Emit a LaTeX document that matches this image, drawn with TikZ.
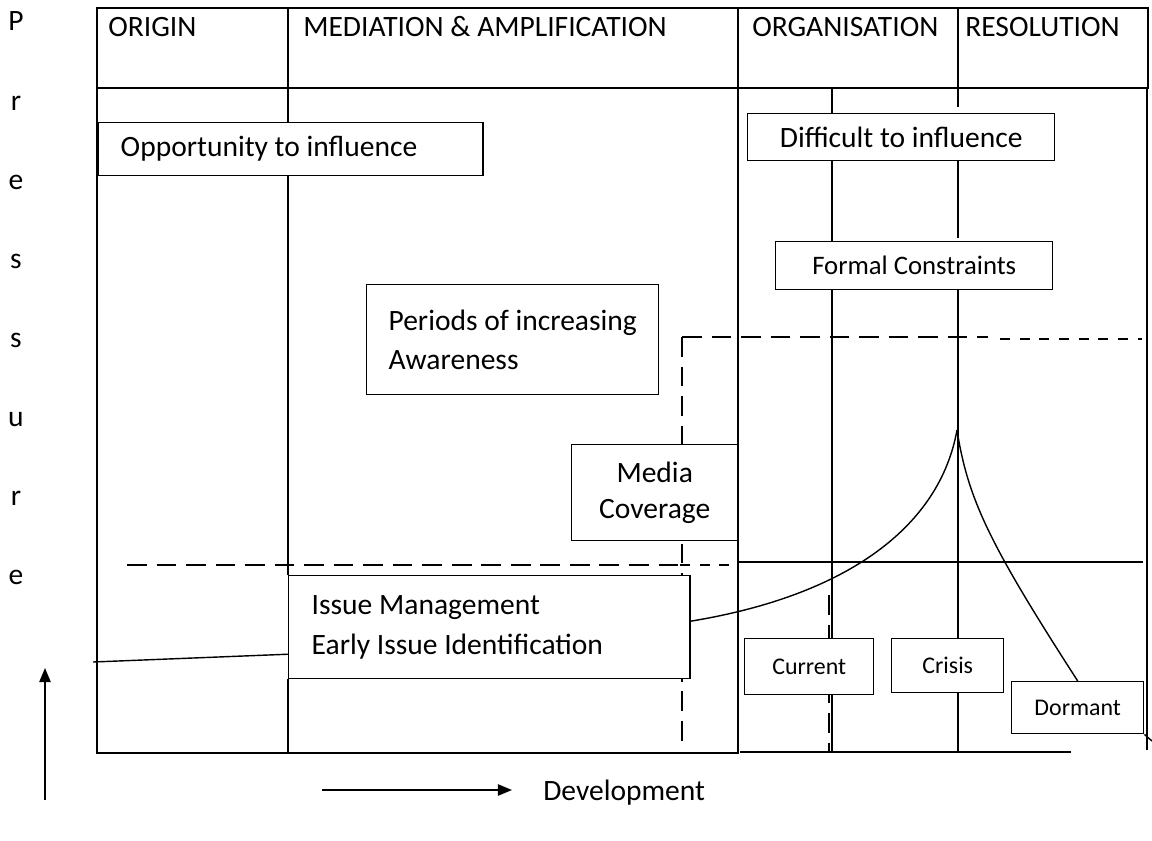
\documentclass[tikz,border=0pt]{standalone}
\usepackage{fontspec}
\setmainfont{Carlito}
\usetikzlibrary{arrows.meta,calc}
\newcommand\txtbig{\fontsize{21}{28}\selectfont}
\newcommand\txtmid{\fontsize{19}{24}\selectfont}
\newcommand\txtsmall{\fontsize{17}{20}\selectfont}

\begin{document}
\begin{tikzpicture}[x=0.025cm, y=-0.025cm,
  frame/.style={line width=1.3pt},
  rule/.style={line width=1pt},
  longdash/.style={line width=1pt, dash pattern=on 14pt off 7pt},
  shortdash/.style={line width=1pt, dash pattern=on 7pt off 7pt},
  arrowline/.style={line width=1.2pt, -{Triangle[length=10pt,width=8pt]}},
  box/.style={draw, line width=1pt, fill=white, anchor=north west, inner sep=0pt, font=\txtbig},
  tag/.style={box, font=\txtsmall, align=flush center},
  head/.style={anchor=base west, inner sep=0pt, font=\txtbig}]

\useasboundingbox (0,0) rectangle (1152,841);

% column positions and frame edges
\coordinate (c1) at (288,0);
\coordinate (c3) at (832,0);
\coordinate (c4) at (958,0);
\coordinate (hb) at (0,88);
\coordinate (fb) at (0,752);
\coordinate (peak) at (957,430);

% frame and header
\draw[frame] (97,8) rectangle (1148,88);
\draw[frame] (97,88) rectangle (738,753);
\draw[frame] (288,8) -- (288,88);
\draw[frame] (738,8) -- (738,88);
\draw[frame] (958,8) -- (958,107);
\draw[frame] (1147,88) -- (1147,750);
\draw[rule] (740,752) -- (1071,752);
\draw[rule] (738,562) -- (1143,562);

\node[head] (hOrigin) at (108,37) {ORIGIN};
\node[head] (hMedia) at (303,37) {MEDIATION \& AMPLIFICATION};
\node[head] (hOrg) at (752,37) {ORGANISATION};
\node[head] (hRes) at (965,37) {RESOLUTION};

% dashed levels
\draw[longdash] (127,565) -- (680,565);
\draw[shortdash] (680,565) -- (738,565);
\draw[longdash] (682,337) -- (988,337);
\draw[shortdash] (1000,339) -- (1142,339);
\draw[longdash] (682,337) -- (682,745);
\draw[longdash] (829,595) -- (829,752);

% boxes
\node[box, align=flush left, text width=8.5cm, inner xsep=0.55cm, minimum height=1.325cm] (opp) at (98,122) {Opportunity to influence};
\node[box, align=flush left, minimum width=7.3cm, minimum height=2.75cm] (aware) at (366,284) {Periods of increasing\\Awareness};
\node[box, align=flush center, font=\fontsize{21}{25.5}\selectfont, minimum width=4.15cm, minimum height=2.4cm] (media) at (571,444) {Media\\Coverage};
\node[box, align=flush left, text width=8.875cm, inner xsep=0.575cm, minimum height=2.575cm] (issue) at (288,575) {Issue Management\\Early Issue Identification};
\node[box, minimum width=7.675cm, minimum height=1.175cm, text depth=-2pt] (diff) at (747,113) {Difficult to influence};
\node[box, font=\txtmid, minimum width=6.925cm, minimum height=1.2cm] (formal) at (775,241) {Formal Constraints};
\node[tag, minimum width=3.225cm, minimum height=1.4cm] (current) at (744,638) {Current};
\node[tag, minimum width=2.8cm, minimum height=1.35cm] (crisis) at (891,638) {Crisis};
\node[tag, minimum width=3.3cm, minimum height=1.3cm] (dormant) at (1011,681) {Dormant};

% column lines between the boxes
\draw[rule] (c1 |- hb) -- (opp.north -| c1);
\draw[rule] (opp.south -| c1) -- (issue.north -| c1);
\draw[rule] (issue.south -| c1) -- (c1 |- fb);
\draw[rule] (c3 |- hb) -- (diff.north -| c3);
\draw[rule] (diff.south -| c3) -- (formal.north -| c3);
\draw[rule] (formal.south -| c3) -- (current.north -| c3);
\draw[rule] (current.south -| c3) -- (c3 |- fb);
\draw[rule] (diff.south -| c4) -- ++(0,77);
\draw[rule] (formal.south -| c4) -- (crisis.north -| c4);
\draw[rule] (crisis.south -| c4) -- (c4 |- fb);

% pressure curve
\draw[rule] ($(issue.east)+(0,-6)$) .. controls (850,595) and (940,525) .. (peak);
\draw[rule] (peak) .. controls (968,500) and (990,545) .. (dormant.north);
\draw[rule] (dormant.south east) -- (1152,741);
\draw[rule] (93,662) -- ($(issue.west)+(0,27)$);

% axes
\foreach \ch [count=\i from 0] in {P,r,e,s,s,u,r,e}
  \node[anchor=base, font=\txtbig] (p\i) at (16,31+79*\i) {\ch};
\coordinate (upfoot) at (45,800);
\coordinate (uptip) at (45,668);
\draw[arrowline] (upfoot) -- (uptip);

\node[head] (dev) at (543,800) {Development};
\coordinate (devtail) at (322,790);
\draw[arrowline] (devtail) -- ($(devtail -| dev.west)+(-31,0)$);
\end{tikzpicture}
\end{document}
